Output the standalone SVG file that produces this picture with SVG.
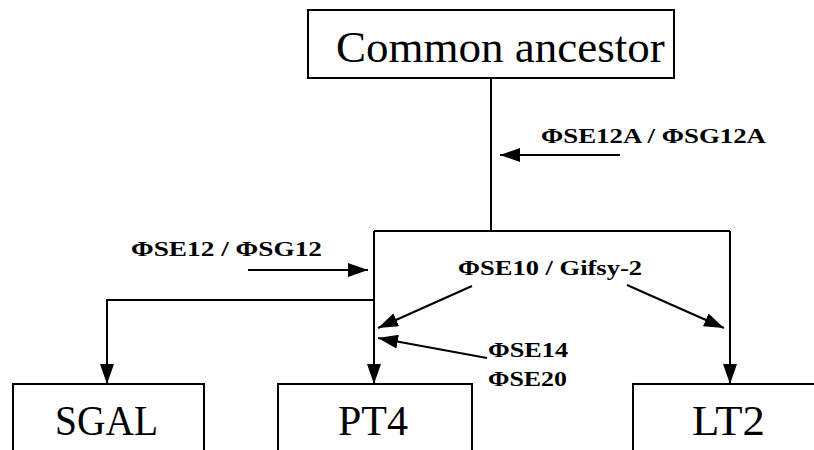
<svg xmlns="http://www.w3.org/2000/svg" width="814" height="450" viewBox="0 0 814 450">
<style>
.box{fill:#fff;stroke:#000;stroke-width:2}
.big{font-family:"Liberation Serif","DejaVu Serif",serif;font-size:43px;fill:#000}
.lbl{font-family:"Liberation Serif","DejaVu Serif",serif;font-size:22px;font-weight:bold;fill:#000}
.ln{fill:none;stroke:#000;stroke-width:2}
</style>
<defs>
<marker id="ah2" viewBox="0 0 20 14" refX="20" refY="7" markerWidth="20" markerHeight="14" markerUnits="userSpaceOnUse" orient="auto">
<path d="M0,0 L20,7 L0,14 z" fill="#000"/>
</marker>
</defs>
<rect width="814" height="450" fill="#fff"/>
<g id="connectors">
<path class="ln" d="M491,78 V231"/>
<path class="ln" d="M374,231 H730"/>
<path class="ln" d="M374,231 V384" marker-end="url(#ah2)"/>
<path class="ln" d="M730,231 V384" marker-end="url(#ah2)"/>
<path class="ln" d="M374,300 H107 V384" marker-end="url(#ah2)"/>
<path class="ln" d="M620,155 H500" marker-end="url(#ah2)"/>
<path class="ln" d="M248,270 H368" marker-end="url(#ah2)"/>
<path class="ln" d="M472,286 L378,328" marker-end="url(#ah2)"/>
<path class="ln" d="M627,285 L724,328" marker-end="url(#ah2)"/>
<path class="ln" d="M487,358 L378,338" marker-end="url(#ah2)"/>
<text class="lbl" x="541" y="143" textLength="225" lengthAdjust="spacingAndGlyphs">ΦSE12A / ΦSG12A</text>
<text class="lbl" x="131" y="256" textLength="191" lengthAdjust="spacingAndGlyphs">ΦSE12 / ΦSG12</text>
<text class="lbl" x="458" y="275" textLength="184" lengthAdjust="spacingAndGlyphs">ΦSE10 / Gifsy-2</text>
<text class="lbl" x="488" y="357" textLength="80" lengthAdjust="spacingAndGlyphs">ΦSE14</text>
<text class="lbl" x="488" y="386" textLength="79" lengthAdjust="spacingAndGlyphs">ΦSE20</text>
</g>
<g id="ancestor">
<rect class="box" x="308" y="10" width="366" height="68"/>
<text class="big" x="336" y="62" style="font-size:45px">Common ancestor</text>
</g>
<g id="sgal">
<rect class="box" x="13" y="384" width="191" height="80"/>
<text class="big" x="55" y="435" textLength="103" lengthAdjust="spacingAndGlyphs">SGAL</text>
</g>
<g id="pt4">
<rect class="box" x="278" y="384" width="194" height="80"/>
<text class="big" x="338" y="435" textLength="70" lengthAdjust="spacingAndGlyphs">PT4</text>
</g>
<g id="lt2">
<rect class="box" x="633" y="384" width="200" height="80"/>
<text class="big" x="692" y="435" textLength="73" lengthAdjust="spacingAndGlyphs">LT2</text>
</g>
</svg>
